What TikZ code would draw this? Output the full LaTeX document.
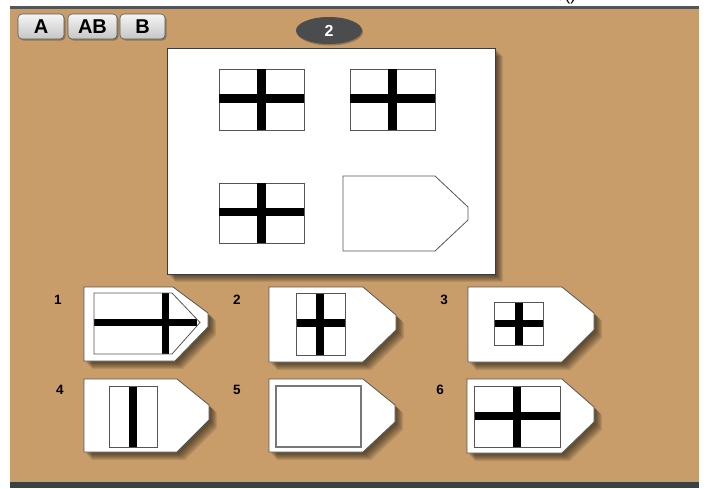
\documentclass[tikz,border=0pt]{standalone}
\usepackage{fontspec}
\setmainfont{Liberation Sans}
\definecolor{tan}{RGB}{200,157,106}
\definecolor{linegray}{RGB}{85,85,85}
\definecolor{ovalgray}{RGB}{74,76,78}
\definecolor{bottomband}{RGB}{58,66,66}
\begin{document}
\begin{tikzpicture}[x=1pt,y=-1pt,
  card/.style={fill=white,draw=linegray,line width=0.8pt},
  fig/.style={fill=white,draw=linegray,line width=0.8pt},
  bar/.style={fill=black},
  lab/.style={font=\bfseries\fontsize{13.5}{13.5}\selectfont,inner sep=0pt},
  btn/.style={rounded corners=4pt,top color=gray!8,bottom color=gray!45,draw=gray!70!black,line width=0.6pt},
  btntext/.style={font=\bfseries\fontsize{20}{20}\selectfont,inner sep=0pt}]
\newcommand\dropshadow[1]{\foreach \s in {2,...,8} {\fill[black,opacity=0.09,shift={(\s,\s)}] #1;}}
\useasboundingbox (0,0) rectangle (709,488);
% background
\fill[white] (0,0) rectangle (709,488);
\fill[tan] (10,8) rectangle (699,482);
\fill[linegray] (10,5.5) rectangle (699,8.5);
\fill[bottomband] (10,482) rectangle (699,488);
\begin{scope}
\clip (540,0) rectangle (600,5.2);
\node[font=\fontsize{17}{17}\selectfont,anchor=base,inner sep=0pt] (cut) at (568,0.5) {/()};
\end{scope}
% buttons
\foreach \x/\w/\t/\n in {18/46/A/ba,68/49/AB/bab,120/45/B/bb} {
  \fill[black,opacity=0.25,rounded corners=4pt] (\x+1.5,15.5) rectangle ++(\w,25);
  \draw[btn] (\x,14) rectangle ++(\w,25);
  \node[btntext] (\n) at (\x+\w/2,27) {\t};
}
% oval
\fill[black,opacity=0.25] (330,32) ellipse [x radius=33, y radius=13.5];
\fill[ovalgray] (329,30.5) ellipse [x radius=33, y radius=13.5];
\node[text=white,font=\bfseries\fontsize{16}{16}\selectfont,inner sep=0pt] (num) at (329,30.5) {2};
% main panel
\dropshadow{(167,48) rectangle (495,274)}
\draw[fill=white,draw=linegray!70!black,line width=0.8pt] (167,48) rectangle (495,274);
% panel figures
\draw[fig] (219,69) rectangle (304,130);
\fill[bar] (257,69) rectangle (266,130);
\fill[bar] (219,94) rectangle (304,103);
\draw[fig] (350,69) rectangle (435,130);
\fill[bar] (388,69) rectangle (397,130);
\fill[bar] (350,94) rectangle (435,103);
\draw[fig] (219,183) rectangle (304,243);
\fill[bar] (257,183) rectangle (266,243);
\fill[bar] (219,208) rectangle (304,216);
\draw[fig] (343,176) -- (435,176) -- (468,207) -- (468,220) -- (435,251) -- (343,251) -- cycle;
% card 1
\dropshadow{(84,287) -- (173,287) -- (208,313) -- (208,327) -- (175,361) -- (84,361) -- cycle}
\draw[card] (84,287) -- (173,287) -- (208,313) -- (208,327) -- (175,361) -- (84,361) -- cycle;
\fill[bar] (94,319) rectangle (197,326);
\fill[bar] (162,293) rectangle (169,354);
\draw[linegray,line width=0.8pt] (94,293) -- (172,293) -- (200,322.5) -- (172,354) -- (94,354) -- cycle;
\node[lab] (l1) at (58,300) {1};
% card 2
\dropshadow{(269,287) -- (363,287) -- (396,315) -- (396,330) -- (363,362) -- (269,362) -- cycle}
\draw[card] (269,287) -- (363,287) -- (396,315) -- (396,330) -- (363,362) -- (269,362) -- cycle;
\draw[fig] (296,293) rectangle (345,355);
\fill[bar] (316,293) rectangle (324,355);
\fill[bar] (296,319) rectangle (345,327);
\draw[linegray,line width=0.8pt] (296,293) rectangle (345,355);
\node[lab] (l2) at (237,300) {2};
% card 3
\dropshadow{(468,287) -- (562,287) -- (594,313) -- (594,330) -- (562,362) -- (468,362) -- cycle}
\draw[card] (468,287) -- (562,287) -- (594,313) -- (594,330) -- (562,362) -- (468,362) -- cycle;
\draw[fig] (494,302) rectangle (543,345);
\fill[bar] (515,302) rectangle (523,345);
\fill[bar] (494,320) rectangle (543,327);
\draw[linegray,line width=0.8pt] (494,302) rectangle (543,345);
\node[lab] (l3) at (444,300) {3};
% card 4
\dropshadow{(84,379) -- (177,379) -- (209,405) -- (209,420) -- (177,452) -- (84,452) -- cycle}
\draw[card] (84,379) -- (177,379) -- (209,405) -- (209,420) -- (177,452) -- (84,452) -- cycle;
\draw[fig] (109,386) rectangle (157,447);
\fill[bar] (129,386) rectangle (137,447);
\draw[linegray,line width=0.8pt] (109,386) rectangle (157,447);
\node[lab] (l4) at (60,390) {4};
% card 5
\dropshadow{(269,379) -- (363,379) -- (395,405) -- (395,422) -- (363,452) -- (269,452) -- cycle}
\draw[card] (269,379) -- (363,379) -- (395,405) -- (395,422) -- (363,452) -- (269,452) -- cycle;
\draw[fill=white,draw=linegray!80,line width=1.6pt] (276,386) rectangle (361,447);
\node[lab] (l5) at (237,390) {5};
% card 6
\dropshadow{(467,379) -- (562,379) -- (594,407) -- (594,422) -- (562,453) -- (467,453) -- cycle}
\draw[card] (467,379) -- (562,379) -- (594,407) -- (594,422) -- (562,453) -- (467,453) -- cycle;
\draw[fig] (474,386) rectangle (560,447);
\fill[bar] (513,386) rectangle (521,447);
\fill[bar] (474,412) rectangle (560,420);
\draw[linegray,line width=0.8pt] (474,386) rectangle (560,447);
\node[lab] (l6) at (440,390) {6};
\end{tikzpicture}
\end{document}
